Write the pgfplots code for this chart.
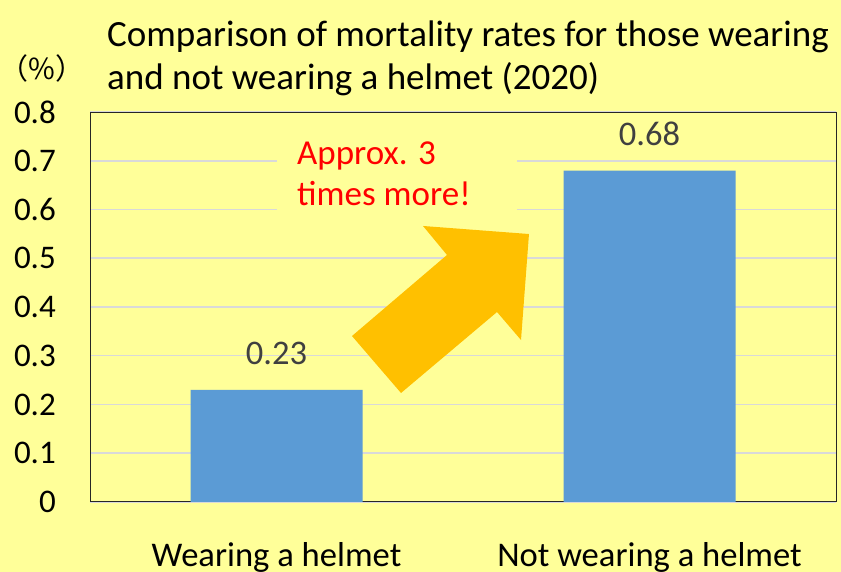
\documentclass[border=0pt]{standalone}
\usepackage{fontspec}
\setmainfont{Carlito}
\newfontfamily\cjk{Noto Sans CJK JP}
\usepackage{pgfplots}
\pgfplotsset{compat=1.18}
\definecolor{bgy}{HTML}{FFFF99}
\definecolor{barblue}{HTML}{5B9BD5}
\definecolor{arrowor}{HTML}{FFC000}
\definecolor{gridg}{HTML}{D9D9D9}
\definecolor{valg}{HTML}{404040}
\begin{document}
\begin{tikzpicture}[x=1pt,y=1pt]
\fill[bgy] (0,0) rectangle (841,572);
\useasboundingbox (0,0) rectangle (841,572);
\node[anchor=base west, inner sep=0pt, font=\fontsize{37}{44}\selectfont] at (107,525.5) {Comparison of mortality rates for those wearing};
\node[anchor=base west, inner sep=0pt, font=\fontsize{37}{44}\selectfont] at (107,482) {and not wearing a helmet (2020)};
\node[font=\cjk\fontsize{29}{34}\selectfont, inner sep=0pt] at (42,504) {（\%）};
\begin{axis}[
  at={(90pt,70pt)}, anchor=south west,
  scale only axis, width=746pt, height=390pt,
  xmin=-0.5, xmax=1.5, ymin=0, ymax=0.8,
  ytick={0,0.1,0.2,0.3,0.4,0.5,0.6,0.7,0.8},
  xtick={0,1},
  xticklabels={Wearing a helmet, Not wearing a helmet},
  major tick length=0pt,
  ymajorgrids, grid style={gridg, line width=1.5pt},
  axis line style={black!85, line width=1pt},
  /pgf/number format/assume math mode=true,
  yticklabel style={anchor=east, inner sep=0pt, xshift=-34pt, font=\fontsize{33}{39}\selectfont, /pgf/number format/fixed},
  xticklabel style={anchor=north, inner sep=0pt, yshift=-40pt, font=\fontsize{34.6}{41}\selectfont},
  ybar, bar width=172pt, bar shift=0pt,
  nodes near coords,
  every node near coord/.append style={anchor=south, inner sep=0pt, yshift=25pt, font=\fontsize{34.5}{41}\selectfont, text=valg, /pgf/number format/fixed},
  clip=false,
]
\addplot[fill=barblue, draw=none] coordinates {(0,0.23) (1,0.68)};
\fill[bgy] (axis cs:0.0013,0.58) rectangle (axis cs:0.6448,0.74);
\node[anchor=base west, inner sep=0pt, text=red, font=\fontsize{35}{42}\selectfont] at (axis cs:0.055,0.693) {Approx. 3};
\node[anchor=base west, inner sep=0pt, text=red, font=\fontsize{35}{42}\selectfont] at (axis cs:0.055,0.609) {times more!};
\fill[arrowor] (axis cs:0.2024,0.3405) -- (axis cs:0.4571,0.5067) -- (axis cs:0.3928,0.5662) -- (axis cs:0.6769,0.5497) -- (axis cs:0.6555,0.3323) -- (axis cs:0.5912,0.3897) -- (axis cs:0.3338,0.2236) -- cycle;
\end{axis}
\end{tikzpicture}
\end{document}
